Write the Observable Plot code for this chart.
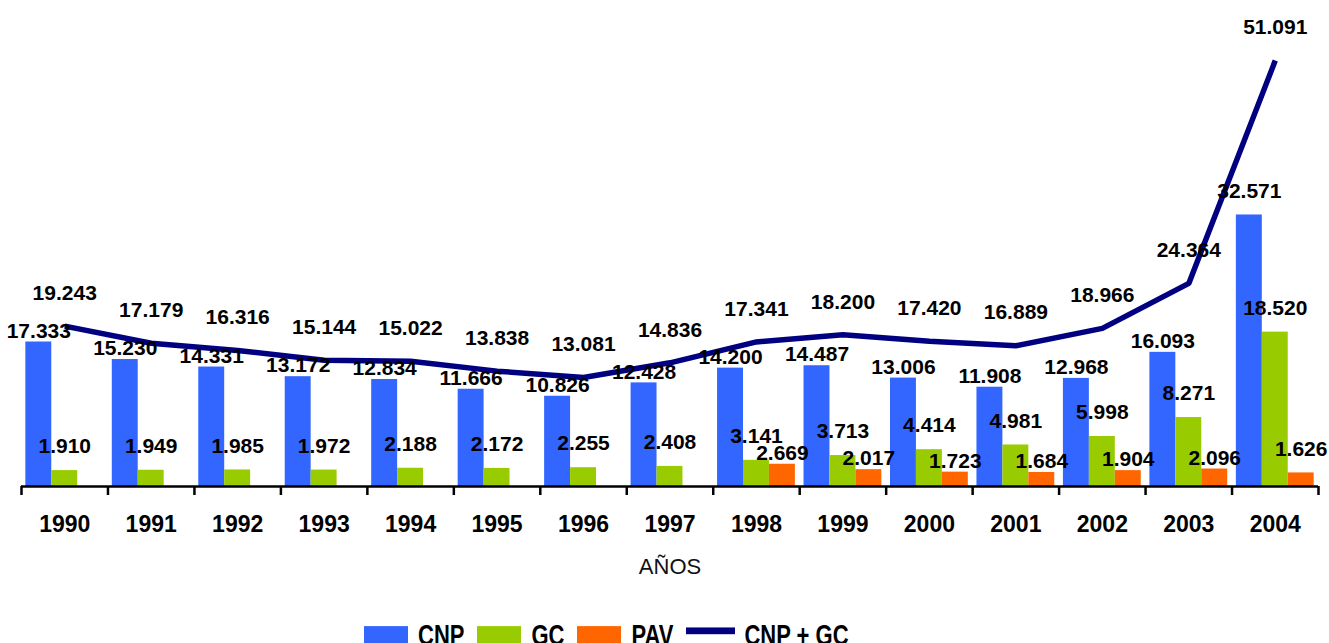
<!DOCTYPE html>
<html>
<head>
<meta charset="utf-8">
<script src="https://cdn.jsdelivr.net/npm/d3@7"></script>
<script src="https://cdn.jsdelivr.net/npm/@observablehq/plot@0.6"></script>
<style>
  html, body { margin: 0; padding: 0; background: #fff; overflow: hidden; }
  body { width: 1329px; height: 643px; position: relative; font-family: "Liberation Sans", Arial, sans-serif; }
  #chart { position: absolute; left: 0; top: 0; }
  #legend { position: absolute; left: 364px; top: 617.5px; display: flex; align-items: flex-start;
            font-weight: bold; font-size: 22px; color: #000; white-space: nowrap;
            transform: scaleY(1.35); transform-origin: 0 0; }
  #legend .sw { width: 44px; height: 16px; margin-top: 6.3px; margin-right: 10px; }
  #legend .ln { width: 49px; height: 5.2px; margin-top: 7px; margin-right: 9px; background: #000080; }
  #legend .lab { margin-right: 13px; line-height: 25px; }
</style>
</head>
<body>
<div id="chart"></div>
<div id="legend"></div>
<script>
// ---- data ----
const years = [1990, 1991, 1992, 1993, 1994, 1995, 1996, 1997, 1998, 1999, 2000, 2001, 2002, 2003, 2004];
const cnp = [17333, 15230, 14331, 13172, 12834, 11666, 10826, 12428, 14200, 14487, 13006, 11908, 12968, 16093, 32571];
const gc  = [1910, 1949, 1985, 1972, 2188, 2172, 2255, 2408, 3141, 3713, 4414, 4981, 5998, 8271, 18520];
const pavYears = [1998, 1999, 2000, 2001, 2002, 2003, 2004];
const pav = [2669, 2017, 1723, 1684, 1904, 2096, 1626];
const cnpGc = [19243, 17179, 16316, 15144, 15022, 13838, 13081, 14836, 17341, 18200, 17420, 16889, 18966, 24364, 51091];
const seriesNames = ["CNP", "GC", "PAV"];
const seriesColors = ["#3366FF", "#99CC00", "#FF6600"];
const lineName = "CNP + GC";
const lineColor = "#000080";
const axisTitle = "AÑOS";

// ---- tables built from the arrays ----
const barRows = [
  ...years.map((y, i) => ({year: y, series: "CNP", value: cnp[i]})),
  ...years.map((y, i) => ({year: y, series: "GC", value: gc[i]})),
  ...pavYears.map((y, i) => ({year: y, series: "PAV", value: pav[i]}))
];
const lineRows = years.map((y, i) => ({year: y, value: cnpGc[i]}));
const edges = [...years.map(y => y - 0.5), years[years.length - 1] + 0.5];

const slot = {CNP: -0.3, GC: 0, PAV: 0.3};   // group position inside each year
const half = 0.15;                             // half bar width (year units)
const lastYear = years[years.length - 1];

const es = d3.formatLocale({decimal: ",", thousands: ".", grouping: [3], currency: ["", "€"]});
const fmt = es.format(",");
const font = "Liberation Sans, Arial, sans-serif";

const raised = d => d.year === lastYear && d.series !== "GC";

const chart = Plot.plot({
  width: 1329,
  height: 600,
  marginLeft: 21,
  marginRight: 11,
  marginTop: 30,
  marginBottom: 114,
  style: {fontFamily: font, background: "#fff", overflow: "visible"},
  x: {type: "linear", domain: [years[0] - 0.5, lastYear + 0.5], axis: null, label: null},
  y: {domain: [0, 54700], axis: null},
  color: {domain: seriesNames, range: seriesColors},
  marks: [
    Plot.rectY(barRows, {
      x1: d => d.year + slot[d.series] - half,
      x2: d => d.year + slot[d.series] + half,
      y: "value",
      fill: "series"
    }),
    Plot.ruleY([0], {stroke: "#000", strokeWidth: 2.5}),
    Plot.axisX({ticks: edges, tickSize: 9, tickFormat: () => "", label: null, stroke: "#000", strokeWidth: 2.5}),
    Plot.axisX({ticks: years, tickSize: 0, tickPadding: 29, tickFormat: d => String(d), label: null,
                fontSize: 23, fontWeight: "bold", fill: "#000"}),
    Plot.text([axisTitle], {frameAnchor: "bottom", lineAnchor: "middle", dy: 80, fontSize: 22, fill: "#111", fontFamily: font}),
    Plot.line(lineRows, {x: "year", y: "value", stroke: lineColor, strokeWidth: 5.5,
                         strokeLinejoin: "miter", strokeLinecap: "butt"}),
    ...seriesNames.map(s => Plot.text(barRows.filter(d => d.series === s && !raised(d)), {
      x: d => d.year + slot[d.series],
      y: "value",
      text: d => fmt(d.value),
      dy: s === "GC" ? -24 : -11,
      fontSize: 21, fontWeight: "bold", fill: "#000"
    })),
    Plot.text(barRows.filter(raised), {
      x: d => d.year + slot[d.series],
      y: "value",
      text: d => fmt(d.value),
      dy: -24,
      fontSize: 21, fontWeight: "bold", fill: "#000"
    }),
    Plot.text(lineRows, {x: "year", y: "value", text: d => fmt(d.value), dy: -33,
                         fontSize: 21, fontWeight: "bold", fill: "#000"})
  ]
});
document.getElementById("chart").appendChild(chart);

// ---- legend ----
const legend = document.getElementById("legend");
seriesNames.forEach((s, i) => {
  const sw = document.createElement("div");
  sw.className = "sw";
  sw.style.background = seriesColors[i];
  const lab = document.createElement("div");
  lab.className = "lab";
  lab.textContent = s;
  legend.appendChild(sw);
  legend.appendChild(lab);
});
const ln = document.createElement("div");
ln.className = "ln";
const lab = document.createElement("div");
lab.className = "lab";
lab.textContent = lineName;
legend.appendChild(ln);
legend.appendChild(lab);
</script>
</body>
</html>
